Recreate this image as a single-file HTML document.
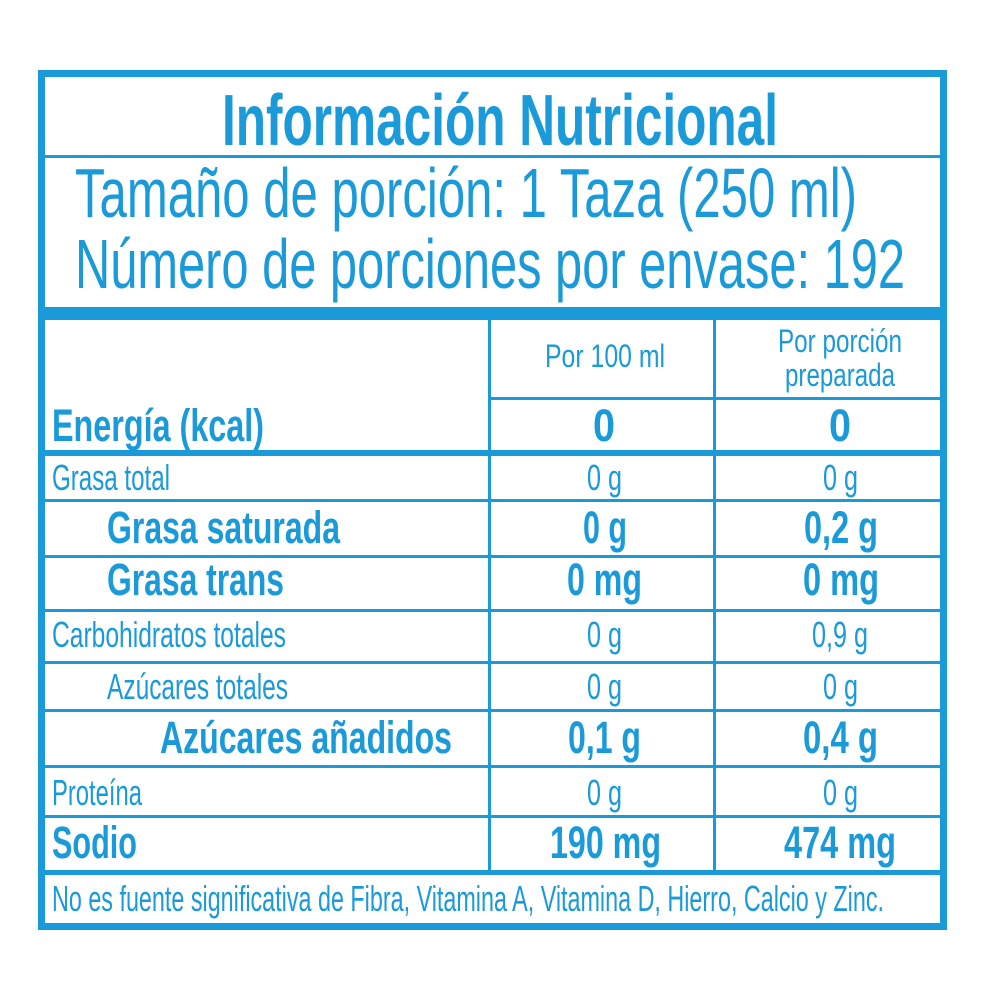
<!DOCTYPE html>
<html><head><meta charset="utf-8"><style>html,body{margin:0;padding:0;background:#fff}svg{display:block}</style></head>
<body>
<svg width="1000" height="1000" viewBox="0 0 1000 1000" xmlns="http://www.w3.org/2000/svg" font-family="'Liberation Sans', sans-serif" fill="#1a9ad9">
<rect width="1000" height="1000" fill="#fff"/>
<g fill="#1a9ad9">
<rect x="38" y="70" width="909" height="7"/>
<rect x="38" y="923" width="909" height="7"/>
<rect x="38" y="70" width="7" height="860"/>
<rect x="940" y="70" width="7" height="860"/>
<rect x="45" y="155" width="895" height="3"/>
<rect x="45" y="307" width="895" height="13"/>
<rect x="488" y="320" width="3" height="553"/>
<rect x="713" y="320" width="3" height="553"/>
<rect x="488" y="397" width="452" height="3"/>
<rect x="45" y="450" width="895" height="6"/>
<rect x="45" y="499" width="895" height="3"/>
<rect x="45" y="555" width="895" height="3"/>
<rect x="45" y="609" width="895" height="3"/>
<rect x="45" y="661" width="895" height="3"/>
<rect x="45" y="709" width="895" height="3"/>
<rect x="45" y="765" width="895" height="3"/>
<rect x="45" y="815" width="895" height="3"/>
<rect x="45" y="870" width="895" height="5"/>
</g>
<g>
<text x="222" y="145" font-size="72" font-weight="bold" textLength="556" lengthAdjust="spacingAndGlyphs">Información Nutricional</text>
<text x="75" y="217" font-size="70" textLength="782" lengthAdjust="spacingAndGlyphs">Tamaño de porción: 1 Taza (250 ml)</text>
<text x="75" y="288" font-size="70" textLength="830" lengthAdjust="spacingAndGlyphs">Número de porciones por envase: 192</text>

<text x="545" y="367" font-size="32" textLength="120" lengthAdjust="spacingAndGlyphs">Por 100 ml</text>
<text x="778" y="352" font-size="32" textLength="124" lengthAdjust="spacingAndGlyphs">Por porción</text>
<text x="785" y="386" font-size="32" textLength="110" lengthAdjust="spacingAndGlyphs">preparada</text>

<text x="52" y="441" font-size="45" font-weight="bold" textLength="212" lengthAdjust="spacingAndGlyphs">Energía (kcal)</text>
<text x="604" y="441" font-size="45" font-weight="bold" text-anchor="middle" textLength="22" lengthAdjust="spacingAndGlyphs">0</text>
<text x="840" y="441" font-size="45" font-weight="bold" text-anchor="middle" textLength="22" lengthAdjust="spacingAndGlyphs">0</text>

<text x="52" y="490" font-size="36" textLength="118" lengthAdjust="spacingAndGlyphs">Grasa total</text>
<text x="587" y="490" font-size="36" textLength="35" lengthAdjust="spacingAndGlyphs">0 g</text>
<text x="823" y="490" font-size="36" textLength="35" lengthAdjust="spacingAndGlyphs">0 g</text>

<text x="107" y="543" font-size="45" font-weight="bold" textLength="233" lengthAdjust="spacingAndGlyphs">Grasa saturada</text>
<text x="583" y="543" font-size="45" font-weight="bold" textLength="44" lengthAdjust="spacingAndGlyphs">0 g</text>
<text x="804" y="543" font-size="45" font-weight="bold" textLength="74" lengthAdjust="spacingAndGlyphs">0,2 g</text>

<text x="107" y="595" font-size="45" font-weight="bold" textLength="177" lengthAdjust="spacingAndGlyphs">Grasa trans</text>
<text x="567" y="595" font-size="45" font-weight="bold" textLength="75" lengthAdjust="spacingAndGlyphs">0 mg</text>
<text x="803" y="595" font-size="45" font-weight="bold" textLength="76" lengthAdjust="spacingAndGlyphs">0 mg</text>

<text x="52" y="647" font-size="36" textLength="234" lengthAdjust="spacingAndGlyphs">Carbohidratos totales</text>
<text x="587" y="647" font-size="36" textLength="35" lengthAdjust="spacingAndGlyphs">0 g</text>
<text x="812" y="647" font-size="36" textLength="56" lengthAdjust="spacingAndGlyphs">0,9 g</text>

<text x="107" y="699" font-size="36" textLength="181" lengthAdjust="spacingAndGlyphs">Azúcares totales</text>
<text x="587" y="699" font-size="36" textLength="35" lengthAdjust="spacingAndGlyphs">0 g</text>
<text x="823" y="699" font-size="36" textLength="35" lengthAdjust="spacingAndGlyphs">0 g</text>

<text x="160" y="753" font-size="45" font-weight="bold" textLength="292" lengthAdjust="spacingAndGlyphs">Azúcares añadidos</text>
<text x="568" y="753" font-size="45" font-weight="bold" textLength="73" lengthAdjust="spacingAndGlyphs">0,1 g</text>
<text x="803" y="753" font-size="45" font-weight="bold" textLength="75" lengthAdjust="spacingAndGlyphs">0,4 g</text>

<text x="52" y="805" font-size="36" textLength="90" lengthAdjust="spacingAndGlyphs">Proteína</text>
<text x="587" y="805" font-size="36" textLength="35" lengthAdjust="spacingAndGlyphs">0 g</text>
<text x="823" y="805" font-size="36" textLength="35" lengthAdjust="spacingAndGlyphs">0 g</text>

<text x="52" y="858" font-size="45" font-weight="bold" textLength="85" lengthAdjust="spacingAndGlyphs">Sodio</text>
<text x="550" y="858" font-size="45" font-weight="bold" textLength="111" lengthAdjust="spacingAndGlyphs">190 mg</text>
<text x="784" y="858" font-size="45" font-weight="bold" textLength="112" lengthAdjust="spacingAndGlyphs">474 mg</text>

<text x="52" y="911" font-size="36" textLength="832" lengthAdjust="spacingAndGlyphs">No es fuente significativa de Fibra, Vitamina A, Vitamina D, Hierro, Calcio y Zinc.</text>
</g>
</svg>
</body></html>
